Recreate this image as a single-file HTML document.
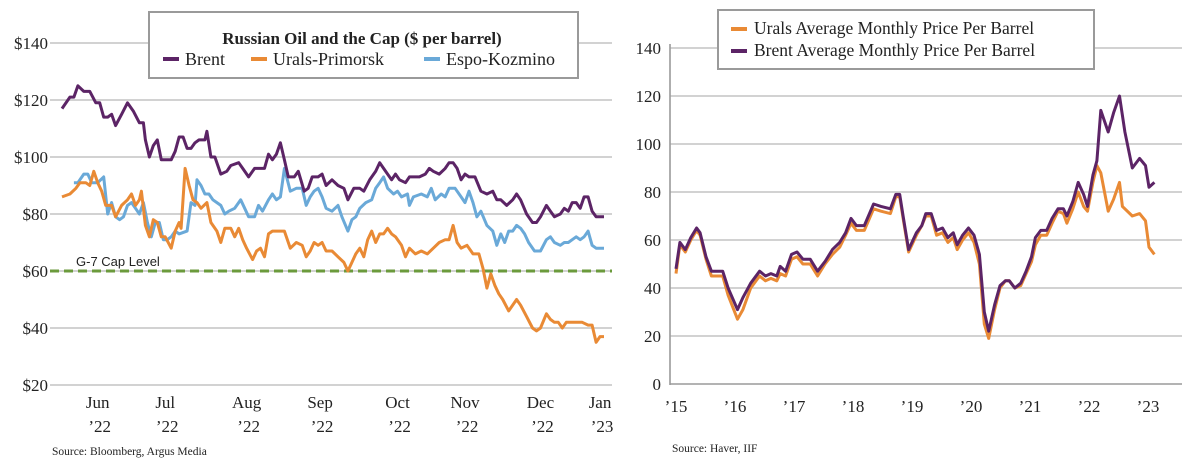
<!DOCTYPE html>
<html><head><meta charset="utf-8"><style>
body{margin:0;background:#fff;}
svg{display:block;font-family:"Liberation Serif",serif;}
</style></head><body>
<svg id="c" width="1200" height="464" viewBox="0 0 1200 464"></svg>
<script>
// LEFT chart data (t = trading position index, v = $/bbl)
const brentT=[31,35,37,39,42,45,48,50,52,54,56,58,61,64,67,70,72,73,75,77,79,81,84,86,88,90,92,94,96,98,100,103,104,106,108,111,114,116,120,122,125,128,131,133,135,137,139,141,143,145,148,150,153,155,157,160,162,164,167,170,173,175,178,181,183,186,189,191,193,195,197,199,201,204,206,209,211,214,216,218,221,224,226,228,230,232,234,236,239,242,245,248,250,252,255,258,260,262,265,268,270,272,275,277,279,282,284,286,288,290,292,294,296,298,300,304];
const brentV=[117,121,121,125,123,123,119,119,114,114,115,111,115,119,116,112,112,106,100,104,106,99,99,99,102,107,107,103,103,105,106,106,109,100,100,94,95,97,98,96,93,96,96,96,101,99,101,105,99,93,93,95,88,89,93,93,94,90,92,90,89,85,89,89,88,92,95,98,96,94,92,94,92,91,93,93,93,94,96,95,94,96,98,98,96,92,94,93,93,88,87,88,85,85,83,85,87,85,80,77,77,79,83,81,79,80,82,81,84,84,82,86,86,81,79,79];
const uralsT=[31,35,38,40,43,45,47,49,51,53,56,58,61,64,66,68,70,71,73,75,77,79,81,83,86,88,90,91,93,95,97,99,101,104,106,109,111,113,116,118,120,122,124,127,129,131,133,135,137,139,143,146,149,152,154,156,158,160,162,164,167,170,173,175,177,179,181,183,185,187,189,191,193,195,197,199,202,204,206,209,212,215,218,221,224,226,228,230,232,235,238,241,243,245,247,249,251,253,256,260,262,265,268,270,272,275,277,279,281,283,285,288,291,293,296,298,300,302,304];
const uralsV=[86,87,89,91,91,90,95,91,88,83,83,79,83,85,87,83,85,88,76,72,78,77,72,72,68,74,77,75,96,90,85,84,82,84,77,74,70,75,75,72,75,71,68,64,67,68,65,73,74,74,74,68,70,69,65,67,70,69,70,67,67,65,63,60,63,66,68,65,71,74,70,73,73,75,73,72,69,65,68,66,67,66,68,70,71,71,76,70,68,69,66,66,61,54,59,55,52,50,46,50,48,44,40,39,40,45,43,42,42,40,42,42,42,42,41,41,35,37,37];
const espoT=[37,39,42,44,46,49,52,54,56,58,60,62,64,66,68,70,72,74,76,78,80,82,84,86,88,90,94,96,98,99,101,103,105,107,109,111,113,115,118,121,123,125,128,130,132,135,137,139,141,143,146,149,152,154,156,158,160,162,164,167,170,172,175,177,179,181,184,187,189,191,193,195,198,200,202,205,206,208,212,215,217,219,222,224,226,229,232,234,236,238,240,242,245,248,250,252,254,256,258,260,262,264,266,269,272,275,277,279,282,284,286,288,290,292,294,296,298,300,304];
const espoV=[91,91,94,94,91,91,93,80,84,79,78,79,83,84,82,80,84,77,72,77,77,71,71,72,74,73,74,84,83,92,90,87,87,85,84,83,80,81,82,85,82,79,79,83,81,85,87,85,86,96,88,89,89,83,86,88,89,86,82,81,83,79,74,78,79,82,84,85,89,91,93,89,87,88,86,87,83,86,87,86,89,85,87,86,89,89,86,84,88,84,79,81,76,74,69,73,70,74,74,76,75,73,70,67,67,71,72,70,69,70,70,71,72,71,72,74,69,68,68];
const leftYTicks=[20,40,60,80,100,120,140];
const leftMonths=["Jun","Jul","Aug","Sep","Oct","Nov","Dec","Jan"];
const leftYears=["\u201922","\u201922","\u201922","\u201922","\u201922","\u201922","\u201922","\u201923"];
const leftMonthT=[49,83,124,161,200,234,272,302];
const capLevel=60;
// RIGHT chart data (m = months since Jan 2015)
const rBrentM=[0,0.8,1.9,3,4.2,4.9,6.1,7.2,9.5,10.6,12.5,13.6,15.2,17,18.2,19.3,20.5,21.2,22.3,23.5,24.6,25.8,27.3,28.8,30.3,31.8,33.3,34.5,35.6,36.7,38.3,40.2,41.7,43.6,44.7,45.5,46.2,47.3,48.9,50,50.8,51.9,53,54.2,55.3,56.4,57.2,58.3,59.5,60.6,61.7,62.7,63.6,64.8,65.9,67,67.8,68.9,70.1,71.2,72.3,73.1,74.2,75.4,76.5,77.7,78.8,79.5,80.7,81.8,82.9,83.7,84.8,85.6,86.4,87.9,89,90.2,91.3,92.8,94.3,95.5,96.2,97.3];
const rBrentV=[48,59,56,61,65,63,53,47,47,40,31,36,42,47,45,46,45,49,47,54,55,52,52,47,51,56,59,63,69,66,66,75,74,73,79,79,70,56,63,66,71,71,64,65,61,63,58,62,65,62,54,30,22,33,41,43,43,40,42,47,53,61,64,64,69,73,73,70,76,84,79,74,87,93,114,105,113,120,105,90,94,91,82,84];
const rUralsM=[0,0.8,1.9,3,4.2,4.9,6.1,7.2,9.5,10.6,12.5,13.6,15.2,17,18.2,19.3,20.5,21.2,22.3,23.5,24.6,25.8,27.3,28.8,30.3,31.8,33.3,34.5,35.6,36.7,38.3,40.2,41.7,43.6,44.7,45.5,46.2,47.3,48.9,50,50.8,51.9,53,54.2,55.3,56.4,57.2,58.3,59.5,60.6,61.7,62.7,63.6,64.8,65.9,67,67.8,68.9,70.1,71.2,72.3,73.1,74.2,75.4,76.5,77.7,78.8,79.5,80.7,81.8,82.9,83.7,84.8,85.6,86.4,87.9,89,90.2,90.8,92.8,94.3,95.5,96.2,97.3];
const rUralsV=[46,58,55,60,64,62,52,45,45,37,27,31,40,45,43,44,43,46,45,52,53,50,50,45,50,54,57,62,67,64,64,73,72,71,78,78,69,55,62,66,70,70,62,63,59,61,56,60,63,59,50,25,19,31,40,43,43,40,41,46,51,58,62,62,67,72,71,67,73,80,74,72,84,91,88,72,77,84,74,70,71,68,57,54];
const rightYTicks=[0,20,40,60,80,100,120,140];
const rightYears=["\u201915","\u201916","\u201917","\u201918","\u201919","\u201920","\u201921","\u201922","\u201923"];

const NS="http://www.w3.org/2000/svg";
const svg=document.getElementById('c');
function mk(tag,attrs,parent,text){const e=document.createElementNS(NS,tag);for(const k in attrs)e.setAttribute(k,attrs[k]);if(text!==undefined)e.textContent=text;(parent||svg).appendChild(e);return e;}

// left scales
const lx=t=>62+(t-31)*(604-62)/(304-31);
const ly=v=>385-(v-20)*(342/120);
// right scales
const rx=m=>676+m*59/12;
const ry=v=>384-v*2.4;

// left gridlines
leftYTicks.forEach(v=>{
  const g=mk('line',{x1:50,x2:612,y1:ly(v),y2:ly(v),stroke:'#c4c4c4','stroke-width':1.6});
  
  
  const t=mk('text',{x:48,y:ly(v)+6,'text-anchor':'end','font-size':17,fill:'#222'},svg,'$'+v);
  
  
});
leftMonths.forEach((m,i)=>{
  const x=lx(leftMonthT[i]);
  const a=mk('text',{x:x,y:408,'text-anchor':'middle','font-size':17,fill:'#222'},svg,m);
  
  
  const b=mk('text',{x:x+2,y:432,'text-anchor':'middle','font-size':17,fill:'#222'},svg,leftYears[i]);
  
  
});
const cap=mk('line',{x1:50,x2:612,y1:ly(capLevel),y2:ly(capLevel),stroke:'#6b9a3c','stroke-width':3,'stroke-dasharray':'9,5'});


const capT=mk('text',{x:76,y:266,'font-size':13,fill:'#222','font-family':'Liberation Sans, sans-serif'},svg,'G-7 Cap Level');



function line(T,V,fx,fy,color,name){
  const d=T.map((t,i)=>(i?'L':'M')+fx(t).toFixed(1)+','+fy(V[i]).toFixed(1)).join('');
  const p=mk('path',{d:d,fill:'none',stroke:color,'stroke-width':3,'stroke-linejoin':'round'});
  
  
}
line(espoT,espoV,lx,ly,'#6aa9d8','espo-kozmino-line');
line(uralsT,uralsV,lx,ly,'#e98a35','urals-primorsk-line');
line(brentT,brentV,lx,ly,'#5c2466','brent-line');

// left legend
const lg=mk('g',{});


mk('rect',{x:149,y:12,width:429,height:66,fill:'#fff',stroke:'#9a9a9a','stroke-width':2},lg);
mk('text',{x:362,y:44,'text-anchor':'middle','font-size':17,'font-weight':'bold',fill:'#222'},lg,'Russian Oil and the Cap ($ per barrel)');
[['#5c2466',163,'Brent'],['#e98a35',251,'Urals-Primorsk'],['#6aa9d8',424,'Espo-Kozmino']].forEach(e=>{
  mk('line',{x1:e[1],x2:e[1]+16,y1:59,y2:59,stroke:e[0],'stroke-width':4},lg);
  mk('text',{x:e[1]+22,y:65,'font-size':18,fill:'#222'},lg,e[2]);
});
const ls=mk('text',{x:52,y:455,'font-size':11.5,fill:'#222'},svg,'Source:  Bloomberg, Argus Media');



// right chart
rightYTicks.forEach(v=>{
  const g=mk('line',{x1:670,x2:1182,y1:ry(v),y2:ry(v),stroke:v===0?'#9a9a9a':'#c4c4c4','stroke-width':1.6});
  
  
  const t=mk('text',{x:661,y:ry(v)+6,'text-anchor':'end','font-size':17,fill:'#222'},svg,String(v));
  
  
});
const ax=mk('line',{x1:670,x2:670,y1:44,y2:385,stroke:'#9a9a9a','stroke-width':1.6});


rightYears.forEach((y,i)=>{
  const t=mk('text',{x:rx(i*12),y:412,'text-anchor':'middle','font-size':17,fill:'#222'},svg,y);
  
  
});
line(rUralsM,rUralsV,rx,ry,'#e98a35','urals-monthly-line');
line(rBrentM,rBrentV,rx,ry,'#5c2466','brent-monthly-line');

const rg=mk('g',{});


mk('rect',{x:718,y:10,width:376,height:59,fill:'#fff',stroke:'#9a9a9a','stroke-width':2},rg);
[['#e98a35',28,'Urals Average Monthly Price Per Barrel'],['#5c2466',50,'Brent Average Monthly Price Per Barrel']].forEach(e=>{
  mk('line',{x1:731,x2:747,y1:e[1]+1,y2:e[1]+1,stroke:e[0],'stroke-width':4},rg);
  mk('text',{x:754,y:e[1]+6,'font-size':17.5,fill:'#222'},rg,e[2]);
});
const rs=mk('text',{x:672,y:452,'font-size':11.5,fill:'#222'},svg,'Source:  Haver, IIF');


</script>
</body></html>
